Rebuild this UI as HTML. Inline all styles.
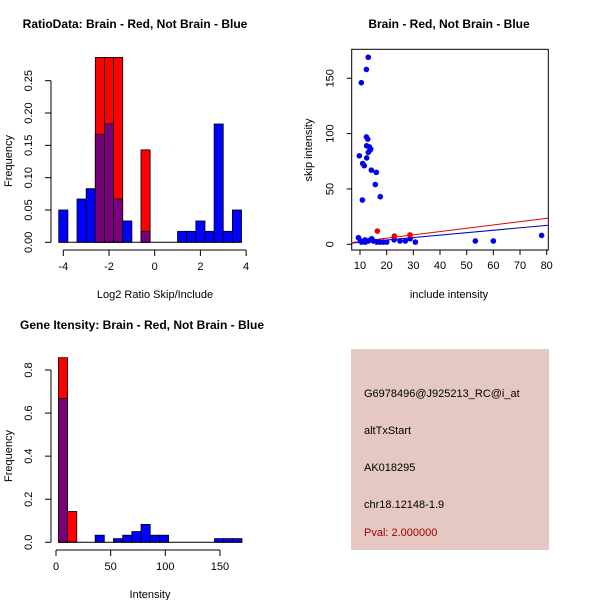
<!DOCTYPE html>
<html><head><meta charset="utf-8"><style>
body{margin:0;background:#fff;}
svg{display:block;font-family:"Liberation Sans",sans-serif;}
</style></head><body>
<svg id="s" width="600" height="600" viewBox="0 0 600 600">
<rect width="600" height="600" fill="#fff"/>
<text x="135" y="28" font-size="12" font-weight="bold" text-anchor="middle">RatioData: Brain - Red, Not Brain - Blue</text>
<text x="449" y="28" font-size="12" font-weight="bold" text-anchor="middle">Brain - Red, Not Brain - Blue</text>
<text x="142" y="329" font-size="12" font-weight="bold" text-anchor="middle">Gene Itensity: Brain - Red, Not Brain - Blue</text>
<text x="155" y="298" font-size="11" text-anchor="middle">Log2 Ratio Skip/Include</text>
<text x="12" y="161" font-size="11" text-anchor="middle" transform="rotate(-90 12 161)">Frequency</text>
<text x="449" y="298" font-size="11" text-anchor="middle">include intensity</text>
<text x="312" y="150" font-size="11" text-anchor="middle" transform="rotate(-90 312 150)">skip intensity</text>
<text x="150" y="598" font-size="11" text-anchor="middle">Intensity</text>
<text x="12" y="456" font-size="11" text-anchor="middle" transform="rotate(-90 12 456)">Frequency</text>
<rect x="351" y="349" width="198" height="201" fill="#e5c8c2"/>
<text x="364" y="397" font-size="11">G6978496@J925213_RC@i_at</text>
<text x="364" y="434" font-size="11">altTxStart</text>
<text x="364" y="471" font-size="11">AK018295</text>
<text x="364" y="508" font-size="11">chr18.12148-1.9</text>
<text x="364" y="536" font-size="11" fill="#a00000">Pval: 2.000000</text>
<g id="g1"></g>
<g id="g2"></g>
<g id="g3"></g>
</svg>
<script>
// Plot 1 data
const ratioBreakStart = -4.2;
const ratioBinWidth = 0.4;
const ratioBlue = [0.05,0,0.067,0.083,0.167,0.183,0.067,0.033,0,0.017,0,0,0,0.017,0.017,0.033,0.017,0.183,0.017,0.05];
const ratioRed  = [0,0,0,0,0.286,0.286,0.286,0,0,0.143,0,0,0,0,0,0,0,0,0,0];
const ratioXTicks = [-4,-2,0,2,4];
const ratioYTicks = ["0.00","0.05","0.10","0.15","0.20","0.25"];
// Plot 2 data
const blueX = [13.1,12.4,10.5,9.75,12.4,12.9,12.5,13.5,13.75,13.1,14,12.5,11,11.6,14.25,16.1,15.75,17.6,10.9,9.4,10.6,11.9,13.1,14.4,15,16.3,17.5,18.8,20,22.8,25,27,28.8,30.75,53.25,60,78.1,10.2,12,14];
const blueY = [169,158,146,80,97,95,89,88,85,83,86,78,73,71,67,65,54,43,40,6,2,4,3,5,3,2,2,2,2,4,3,3,5,2,3,3,8,3,2,4];
const redX = [16.5,22.9,28.75];
const redY = [12,7.5,8.5];
const fitSlope = {red:0.30, blue:0.22};
const fitIntercept = {red:-0.5, blue:-0.5};
const scatXTicks = [10,20,30,40,50,60,70,80];
const scatYTicks = [0,50,100,150];
// Plot 3 data
const intBreakStart = 2.2;
const intBinWidth = 8.4;
const intBlue = [0.667,0,0,0,0.033,0,0.017,0.033,0.05,0.083,0.033,0.033,0,0,0,0,0,0.017,0.017,0.017];
const intRed  = [0.857,0.143,0,0,0,0,0,0,0,0,0,0,0,0,0,0,0,0,0,0];
const intXTicks = [0,50,100,150];
const intYTicks = ["0.0","0.2","0.4","0.6","0.8"];

const NS="http://www.w3.org/2000/svg";
function mk(p,tag,a){const e=document.createElementNS(NS,tag);for(const k in a)e.setAttribute(k,a[k]);p.appendChild(e);return e;}

function hist(g,start,w,blue,red,xs,ys,xt,yt,xAxY,yAxX,nm){
  for(let i=0;i<blue.length;i++){
    const b=blue[i],r=red[i],x0=xs(start+i*w),x1=xs(start+(i+1)*w);
    const hi=Math.max(b,r),lo=Math.min(b,r);
    if(hi>0){
      const e=mk(g,'rect',{x:x0,y:ys(hi),width:x1-x0,height:ys(0)-ys(hi),fill:r>b?'#ff0000':'#0000ff',stroke:'#000','stroke-width':0.8});
      
      
    }
    if(lo>0){
      const e=mk(g,'rect',{x:x0,y:ys(lo),width:x1-x0,height:ys(0)-ys(lo),fill:'#780078',stroke:'#000','stroke-width':0.8});
      
      
    }
  }
  const n=blue.length;
  mk(g,'line',{x1:xs(start),x2:xs(start+n*w),y1:ys(0),y2:ys(0),stroke:'#000'});
  mk(g,'line',{x1:xs(xt[0]),x2:xs(xt[xt.length-1]),y1:xAxY,y2:xAxY,stroke:'#000'});
  xt.forEach(v=>{mk(g,'line',{x1:xs(v),x2:xs(v),y1:xAxY,y2:xAxY+6,stroke:'#000'});
    const t=mk(g,'text',{x:xs(v),y:xAxY+20,'font-size':11,'text-anchor':'middle'});t.textContent=v;
    
    });
  const yv=yt.map(Number);
  mk(g,'line',{x1:yAxX,x2:yAxX,y1:ys(yv[0]),y2:ys(yv[yv.length-1]),stroke:'#000'});
  yt.forEach(s=>{const y=ys(+s);mk(g,'line',{x1:yAxX-6,x2:yAxX,y1:y,y2:y,stroke:'#000'});
    const t=mk(g,'text',{x:yAxX-19,y:y,'font-size':11,'text-anchor':'middle',transform:`rotate(-90 ${yAxX-19} ${y})`});t.textContent=s;
    
    });
}
// Plot 1
hist(document.getElementById('g1'),ratioBreakStart,ratioBinWidth,ratioBlue,ratioRed,
  v=>63.3+(v+4)*22.85, v=>242.3-v*646.4, ratioXTicks, ratioYTicks, 250, 51,'ratio');
// Plot 3
hist(document.getElementById('g3'),intBreakStart,intBinWidth,intBlue,intRed,
  v=>56+v*1.093, v=>542.3-v*215.4, intXTicks, intYTicks, 550, 51,'intensity');
// Plot 2
(function(){
  const g=document.getElementById('g2');
  const xs=v=>360+(v-10)*2.667, ys=v=>244.3-v*1.107;
  const L=351.7,R=548.3,T=49.3,B=250;
  mk(g,'defs',{}).innerHTML='<clipPath id="cp"><rect x="'+L+'" y="'+T+'" width="'+(R-L)+'" height="'+(B-T)+'"/></clipPath>';
  mk(g,'rect',{x:L,y:T,width:R-L,height:B-T,fill:'none',stroke:'#000'});
  const xa=L, xb=R, va=(xa-360)/2.667+10, vb=(xb-360)/2.667+10;
  ['blue','red'].forEach(c=>{
    const e=mk(g,'line',{x1:xa,x2:xb,y1:ys(fitSlope[c]*va+fitIntercept[c]),y2:ys(fitSlope[c]*vb+fitIntercept[c]),stroke:c==='red'?'#dd0000':'#0000bb','stroke-width':1,'clip-path':'url(#cp)'});
    
    
  });
  blueX.forEach((x,i)=>{const e=mk(g,'circle',{cx:xs(x),cy:ys(blueY[i]),r:2.8,fill:'#0000ee'});
    
    });
  redX.forEach((x,i)=>{const e=mk(g,'circle',{cx:xs(x),cy:ys(redY[i]),r:2.8,fill:'#ee0000'});
    
    });
  scatXTicks.forEach(v=>{mk(g,'line',{x1:xs(v),x2:xs(v),y1:B,y2:B+5,stroke:'#000'});
    const t=mk(g,'text',{x:xs(v),y:B+19,'font-size':11,'text-anchor':'middle'});t.textContent=v;
    
    });
  scatYTicks.forEach(v=>{const y=ys(v);mk(g,'line',{x1:L-5,x2:L,y1:y,y2:y,stroke:'#000'});
    const t=mk(g,'text',{x:L-18,y:y,'font-size':11,'text-anchor':'middle',transform:`rotate(-90 ${L-18} ${y})`});t.textContent=v;
    
    });
})();
</script>
</body></html>
